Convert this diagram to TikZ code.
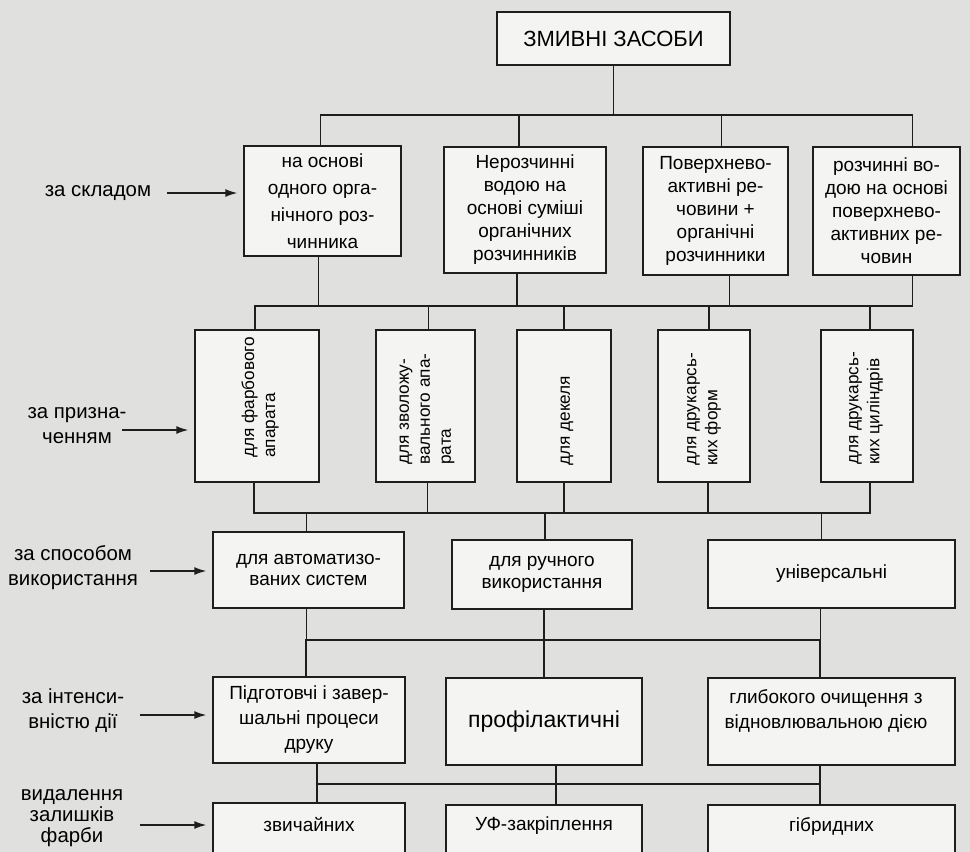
\documentclass[tikz,border=0pt]{standalone}
\usepackage{fontspec}
\setmainfont{Liberation Sans}
\usetikzlibrary{arrows.meta,calc}
\definecolor{ink}{RGB}{30,30,30}
\definecolor{paper}{RGB}{244,244,242}
\definecolor{scan}{RGB}{224,224,222}
\begin{document}
\begin{tikzpicture}[x=0.5pt,y=-0.5pt,
	box/.style={draw=ink, fill=paper, line width=0.7pt, align=center, inner sep=0pt, font=\fontsize{9.5}{11.5}\selectfont},
	vtext/.style={rotate=90, anchor=west, align=left, inner sep=0pt, font=\fontsize{8.6}{10.5}\selectfont},
	side/.style={align=center, inner sep=0pt, font=\fontsize{10.2}{12.5}\selectfont},
	arr/.style={draw=ink, line width=0.7pt, -{Latex[length=6pt,width=4pt]}},
	link/.style={draw=ink, line width=0.7pt}]
	%page and frame-----------------------------
	\fill[scan] (0,0) rectangle (970,852);
	\useasboundingbox (0,0) rectangle (970,852);
	\clip (0,0) rectangle (970,852);
	%bus levels
	\coordinate (busA) at (0,115);
	\coordinate (busB) at (0,306);
	\coordinate (busC) at (0,513);
	\coordinate (busD) at (0,640);
	\coordinate (busE) at (0,784);

	%title--------------------------------------
	\node[box, minimum width=116.5pt, minimum height=26.5pt, font=\fontsize{11}{13}\selectfont] (title) at (613.5,38.5) {ЗМИВНІ ЗАСОБИ};

	%row A: composition-------------------------
	\node[box, minimum width=78.5pt, minimum height=55pt, font=\fontsize{9.5}{13.5}\selectfont] (A1) at (322.5,201) {на основі\\одного орга-\\нічного роз-\\чинника};
	\node[box, minimum width=81pt, minimum height=63pt] (A2) at (525,210) {Нерозчинні\\водою на\\основі суміші\\органічних\\розчинників};
	\node[box, minimum width=72.5pt, minimum height=64pt] (A3) at (715.5,211) {Поверхнево-\\активні ре-\\човини +\\органічні\\розчинники};
	\node[box, minimum width=73.5pt, minimum height=64pt] (A4) at (886.5,211) {розчинні во-\\дою на основі\\поверхнево-\\активних ре-\\човин};

	%row B: purpose (vertical text)-------------
	\node[box, minimum width=62pt, minimum height=76pt] (B1) at (257,406) {};
	\node[box, minimum width=49.5pt, minimum height=76pt] (B2) at (425.5,406) {};
	\node[box, minimum width=47pt, minimum height=76pt] (B3) at (564,406) {};
	\node[box, minimum width=46pt, minimum height=76pt] (B4) at (704,406) {};
	\node[box, minimum width=46pt, minimum height=76pt] (B5) at (867,406) {};
	\node[vtext] (tB1) at (260,458) {для фарбового\\апарата};
	\node[vtext] (tB2) at (427,465) {для зволожу-\\вального апа-\\рата};
	\node[vtext] (tB3) at (567,466) {для декеля};
	\node[vtext] (tB4) at (704,466) {для друкарсь-\\ких форм};
	\node[vtext] (tB5) at (866,465) {для друкарсь-\\ких циліндрів};

	%row C: way of use--------------------------
	\node[box, minimum width=95.5pt, minimum height=38pt, font=\fontsize{9.5}{10.5}\selectfont] (C1) at (308.5,570) {для автоматизо-\\ваних систем};
	\node[box, minimum width=90pt, minimum height=34.5pt, font=\fontsize{9.5}{11}\selectfont] (C2) at (542,574.5) {для ручного\\використання};
	\node[box, minimum width=123.5pt, minimum height=34pt] (C3) at (831.5,574) {універсальні};

	%row D: intensity---------------------------
	\node[box, minimum width=96pt, minimum height=43pt, font=\fontsize{9.5}{12.5}\selectfont] (D1) at (309,720) {Підготовчі і завер-\\шальні процеси\\друку};
	\node[box, minimum width=98pt, minimum height=43.5pt, font=\fontsize{11.5}{13}\selectfont] (D2) at (544,721.5) {профілактичні};
	\node[box, minimum width=123.5pt, minimum height=43.5pt] (D3) at (831.5,721.5) {};
	\node[box, draw=none, fill=none, font=\fontsize{9.5}{12.5}\selectfont] (tD3) at (826,711) {глибокого очищення з\\відновлювальною дією};

	%row E: ink removal (cut by page edge)------
	\node[box, minimum width=96pt, minimum height=48pt] (E1) at (309,851) {};
	\node[box, minimum width=98pt, minimum height=48pt] (E2) at (544,853) {};
	\node[box, minimum width=123.5pt, minimum height=48pt] (E3) at (831.5,853) {};
	\node[box, draw=none, fill=none] (tE1) at (309,825) {звичайних};
	\node[box, draw=none, fill=none] (tE2) at (544,826) {УФ-закріплення};
	\node[box, draw=none, fill=none] (tE3) at (831.5,826) {гібридних};

	%side labels--------------------------------
	\node[side] (lab1) at (98,193) {за складом};
	\node[side] (lab2) at (77,426) {за призна-\\ченням};
	\node[side] (lab3) at (73,568) {за способом\\використання};
	\node[side] (lab4) at (73,711) {за інтенси-\\вністю дії};
	\node[side, font=\fontsize{10.2}{10.5}\selectfont] (lab5) at (72,818) {видалення\\залишків\\фарби};

	%side arrows
	\draw[arr] ($(lab1.east -| A1.west)+(-38pt,0)$) -- ($(lab1.east -| A1.west)+(-3pt,0)$);
	\draw[arr] ($(lab2.east -| B1.west)+(-36pt,-2pt)$) -- ($(lab2.east -| B1.west)+(-3pt,-2pt)$);
	\draw[arr] ($(lab3.east -| C1.west)+(-31pt,-1.5pt)$) -- ($(lab3.east -| C1.west)+(-3pt,-1.5pt)$);
	\draw[arr] ($(lab4.east -| D1.west)+(-36pt,-2pt)$) -- ($(lab4.east -| D1.west)+(-3pt,-2pt)$);
	\draw[arr] ($(lab5.east -| E1.west)+(-36pt,-3.5pt)$) -- ($(lab5.east -| E1.west)+(-3pt,-3.5pt)$);

	%title to row A-----------------------------
	\draw[link] (title.south) -- (title.south |- busA);
	\draw[link] ([xshift=-1pt]A1.north) |- ([xshift=13pt]A4.north |- busA) -- ([xshift=13pt]A4.north);
	\draw[link] ([xshift=-3pt]A2.north) -- ([xshift=-3pt]A2.north |- busA);
	\draw[link] ([xshift=3pt]A3.north) -- ([xshift=3pt]A3.north |- busA);

	%row A to row B-----------------------------
	\draw[link] ([xshift=-1pt]B1.north) |- ([xshift=13pt]A4.south |- busB) -- ([xshift=13pt]A4.south);
	\draw[link] ([xshift=-2pt]A1.south) -- ([xshift=-2pt]A1.south |- busB);
	\draw[link] ([xshift=-4pt]A2.south) -- ([xshift=-4pt]A2.south |- busB);
	\draw[link] ([xshift=7pt]A3.south) -- ([xshift=7pt]A3.south |- busB);
	\draw[link] ([xshift=1.5pt]B2.north) -- ([xshift=1.5pt]B2.north |- busB);
	\draw[link] (B3.north) -- (B3.north |- busB);
	\draw[link] ([xshift=2.5pt]B4.north) -- ([xshift=2.5pt]B4.north |- busB);
	\draw[link] ([xshift=1.5pt]B5.north) -- ([xshift=1.5pt]B5.north |- busB);

	%row B to row C-----------------------------
	\draw[link] ([xshift=-1.5pt]B1.south) |- ([xshift=1.5pt]B5.south |- busC) -- ([xshift=1.5pt]B5.south);
	\draw[link] ([xshift=1pt]B2.south) -- ([xshift=1pt]B2.south |- busC);
	\draw[link] (B3.south) -- (B3.south |- busC);
	\draw[link] ([xshift=2pt]B4.south) -- ([xshift=2pt]B4.south |- busC);
	\draw[link] ([xshift=-1pt]C1.north) -- ([xshift=-1pt]C1.north |- busC);
	\draw[link] ([xshift=1.5pt]C2.north) -- ([xshift=1.5pt]C2.north |- busC);
	\draw[link] ([xshift=-5pt]C3.north) -- ([xshift=-5pt]C3.north |- busC);

	%row C to row D-----------------------------
	\draw[link] ([xshift=-1.5pt]D1.north) |- ([xshift=-5.75pt]D3.north |- busD) -- ([xshift=-5.75pt]D3.north);
	\draw[link] ([xshift=-1pt]C1.south) -- ([xshift=-1pt]C1.south |- busD);
	\draw[link] ([xshift=-5.5pt]C3.south) -- ([xshift=-5.5pt]C3.south |- busD);
	\draw[link] ([xshift=1pt]C2.south) -- ([xshift=1pt]C2.south |- D2.north);

	%row D to row E-----------------------------
	\draw[link] ([xshift=4pt]D1.south) |- ([xshift=-5.75pt]D3.south |- busE) -- ([xshift=-5.75pt]D3.south);
	\draw[link] ([xshift=6pt]D2.south) -- ([xshift=6pt]D2.south |- E2.north);
	\draw[link] ([xshift=4pt]E1.north) -- ([xshift=4pt]E1.north |- busE);
	\draw[link] ([xshift=-5.75pt]E3.north) -- ([xshift=-5.75pt]E3.north |- busE);
\end{tikzpicture}
\end{document}
